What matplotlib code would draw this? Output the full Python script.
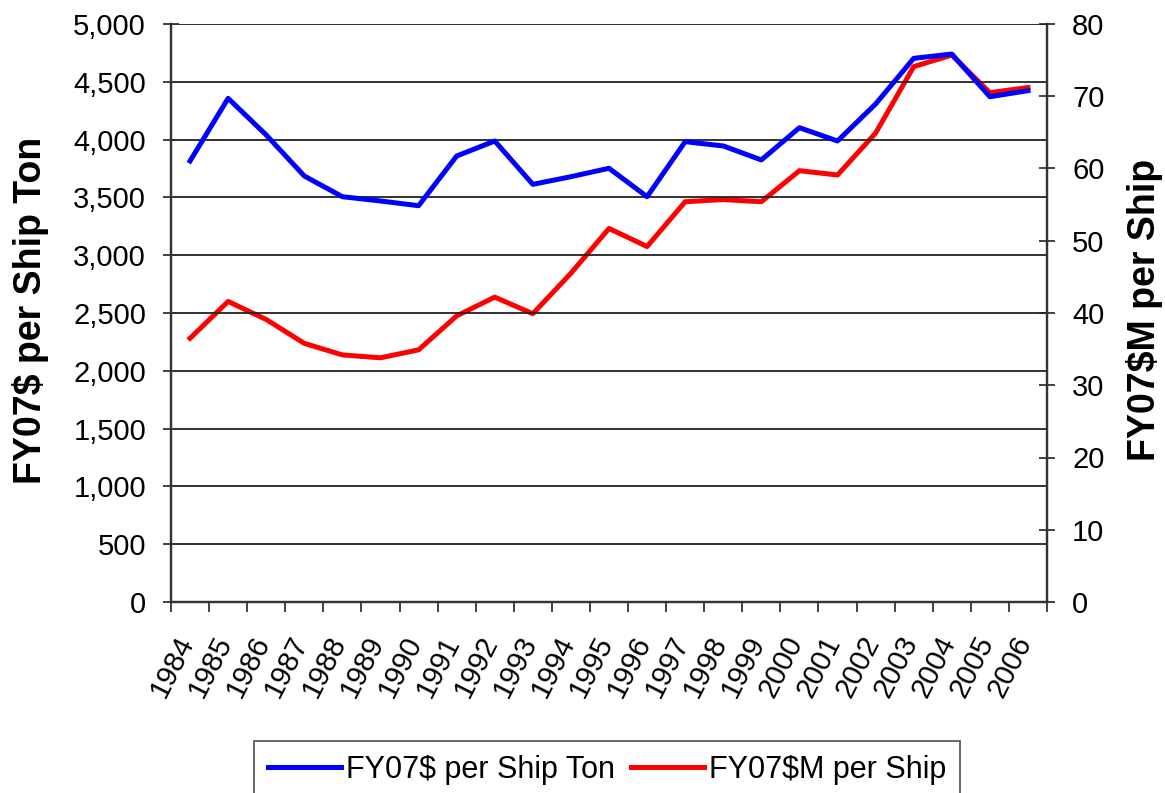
import matplotlib
matplotlib.use("Agg")
import matplotlib.pyplot as plt
from matplotlib.ticker import FuncFormatter, MultipleLocator
from matplotlib.transforms import ScaledTranslation
import numpy as np

plt.rcParams['font.family'] = ['Liberation Sans', 'DejaVu Sans']

years = [str(y) for y in range(1984, 2007)]
per_ton = [3815, 4357, 4040, 3685, 3506, 3469, 3428, 3858, 3988, 3613, 3679,
           3752, 3506, 3982, 3945, 3824, 4103, 3988, 4308, 4703, 4740, 4371, 4423]
per_ship = [36.5, 41.6, 39.1, 35.8, 34.2, 33.8, 34.9, 39.6, 42.2, 39.9, 45.5,
            51.7, 49.2, 55.4, 55.7, 55.4, 59.7, 59.1, 64.9, 74.1, 75.7, 70.5, 71.2]

W, H = 1165, 793
fig = plt.figure(figsize=(W / 100, H / 100), dpi=100)
ax = fig.add_axes([171 / W, 1 - 602 / H, (1047 - 171) / W, (602 - 24) / H])
ax2 = ax.twinx()

x = np.arange(len(years))
l1, = ax.plot(x, per_ton, color='#0000FF', lw=3.6, label='FY07$ per Ship Ton')
l2, = ax2.plot(x, per_ship, color='#FF0000', lw=3.6, label='FY07$M per Ship')
ax.set_zorder(ax2.get_zorder() + 1)
ax.patch.set_visible(False)

ax.set_xlim(-0.5, len(years) - 0.5)
ax.set_ylim(0, 5000)
ax2.set_ylim(0, 80)
ax.yaxis.set_major_locator(MultipleLocator(500))
ax2.yaxis.set_major_locator(MultipleLocator(10))
ax.yaxis.set_major_formatter(FuncFormatter(lambda v, p: f"{int(v):,}"))

ax.grid(axis='y', color='#222222', lw=1.3)
ax.set_axisbelow(True)

for a in (ax, ax2):
    a.spines['top'].set_visible(False)
    for s in ('left', 'right', 'bottom'):
        a.spines[s].set_linewidth(1.6)
        a.spines[s].set_color('#333333')

# category boundary ticks
ax.set_xticks(np.arange(-0.5, len(years), 1))
ax.set_xticklabels([])
ax.tick_params(axis='x', length=7, width=1.3, direction='out', color='#333333')

# rotated year labels under each category
off = ScaledTranslation(-18 / 100, -65 / 100, fig.dpi_scale_trans)
for xi, yr in zip(x, years):
    ax.text(xi, 0, yr, transform=ax.get_xaxis_transform() + off, rotation=63,
            ha='center', va='center', rotation_mode='anchor', fontsize=21)

ax.tick_params(axis='y', labelsize=21, length=12, width=1.3, direction='inout',
               pad=12, color='#333333')
ax2.tick_params(axis='y', labelsize=21, length=12, width=1.3, direction='inout',
                pad=12, color='#333333')

ax.set_ylabel('FY07$ per Ship Ton', fontsize=27, fontweight='bold')
ax2.set_ylabel('FY07$M per Ship', fontsize=27, fontweight='bold')
ax.yaxis.set_label_coords((49 - 171) / 876, 0.505)
ax2.yaxis.set_label_coords((1126 - 171) / 876, 0.505)

leg = fig.legend(handles=[l1, l2], loc='center', bbox_to_anchor=(607 / W, 1 - 770 / H),
                 ncol=2, fontsize=22, frameon=True, fancybox=False, edgecolor='#333333',
                 handlelength=2.4, handletextpad=0.17, columnspacing=0.5,
                 borderpad=0.45, borderaxespad=0)
leg.get_frame().set_linewidth(1.3)

fig.savefig('out.png', dpi=100)
